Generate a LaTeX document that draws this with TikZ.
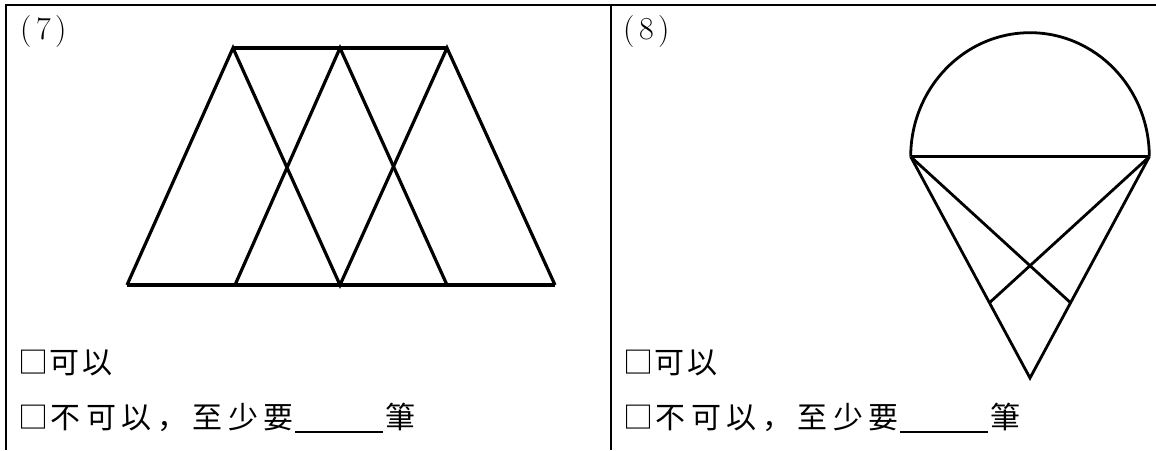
\documentclass[tikz,border=0pt]{standalone}
\usepackage{fontspec}
\usetikzlibrary{calc}
\newfontfamily\cjk{Noto Sans CJK TC}
\newfontfamily\cjkjp{Noto Sans CJK JP}
\newcommand\cjkcell[2][35.5pt]{\makebox[#1]{#2}}
\begin{document}
\begin{tikzpicture}[x=1pt,y=-1pt,
  figline/.style={line width=3.2pt, line join=miter},
  arcline/.style={line width=2.8pt, line join=miter},
  frameline/.style={line width=2.3pt},
  cjktext/.style={inner sep=0pt, anchor=base west, font=\cjk\fontsize{30}{32}\selectfont},
  numtext/.style={inner sep=0pt, anchor=base west, font=\fontsize{32}{34}\selectfont}]
\useasboundingbox (0,0) rectangle (1156,450);
% frame
\draw[frameline] (5,5) -- (1156,5);
\draw[frameline] (6,3.9) -- (6,450);
\draw[frameline] (611,3.9) -- (611,450);

% ---------- panel (7)
\node[numtext] (n7) at (20,39) {(\hspace{4.5pt}7\hspace{4.5pt})};
\coordinate (t1) at (233,48);
\coordinate (t2) at (340,48);
\coordinate (t3) at (447,48);
\coordinate (b1) at (127,285);
\coordinate (b2) at (235,285);
\coordinate (b3) at (340,285);
\coordinate (b4) at (447,285);
\coordinate (b5) at (555,285);
\draw[figline] (t1) -- (t3);
\draw[figline] (b1) -- (b5);
\draw[figline] (b1) -- (t1) -- (b3) -- (t3) -- (b5);
\draw[figline] (b2) -- (t2) -- (b4);

\node[cjktext] (a7) at (18,373) {□\cjkcell[33pt]{可}\cjkcell[33pt]{以}};
\node[cjktext] (c7) at (18,428) {□\cjkcell{不}\cjkcell{可}\cjkcell{以}\cjkcell{\cjkjp ，}\cjkcell{至}\cjkcell{少}\cjkcell{要}};
\coordinate (u7a) at (295,432);
\coordinate (u7b) at (383,432);
\draw[line width=2.5pt] (u7a) -- (u7b);
\node[cjktext] (p7) at (383,428) {\cjkcell{筆}};

% ---------- panel (8)
\node[numtext] (n8) at (623,39) {(\hspace{4.5pt}8\hspace{4.5pt})};
\coordinate (L) at (910.7,156.7);
\coordinate (R) at (1149.3,156.7);
\coordinate (V) at (1030,378);
\coordinate (Lm) at ($(L)!0.66!(V)$);
\coordinate (Rm) at ($(R)!0.66!(V)$);
\draw[arcline] (L) arc[start angle=180, end angle=360, x radius=119.3, y radius=124];
\draw[arcline] (L) -- (R);
\draw[arcline] (L) -- (V) -- (R);
\draw[arcline] (L) -- (Rm);
\draw[arcline] (R) -- (Lm);

\node[cjktext] (a8) at (623,373) {□\cjkcell[33pt]{可}\cjkcell[33pt]{以}};
\node[cjktext] (c8) at (623,428) {□\cjkcell{不}\cjkcell{可}\cjkcell{以}\cjkcell{\cjkjp ，}\cjkcell{至}\cjkcell{少}\cjkcell{要}};
\coordinate (u8a) at (900,432);
\coordinate (u8b) at (988,432);
\draw[line width=2.5pt] (u8a) -- (u8b);
\node[cjktext] (p8) at (988,428) {\cjkcell{筆}};
\end{tikzpicture}
\end{document}
